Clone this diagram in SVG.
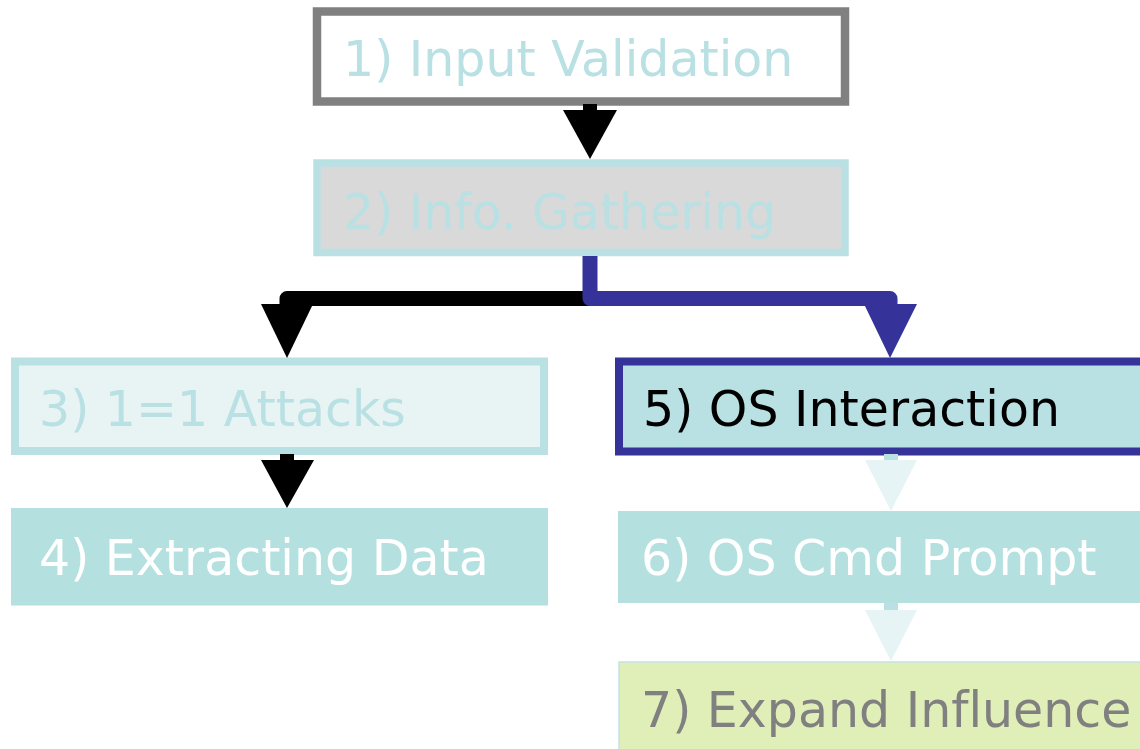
<svg xmlns="http://www.w3.org/2000/svg" width="1140" height="749" viewBox="0 0 1140 749">
<style>
text{font-family:"DejaVu Sans","Verdana",sans-serif;font-size:49px;font-variant-ligatures:none;font-feature-settings:"liga" 0}
.cy{fill:#b9e0e3}
.conn{fill:none;stroke-width:15;stroke-linejoin:round}
</style>
<rect width="1140" height="749" fill="#ffffff"/>
<g id="n1"><rect x="317" y="11.5" width="528" height="90" fill="#ffffff" stroke="#808080" stroke-width="8.5"/><text x="343" y="76" class="cy">1) Input Validation</text></g>
<g id="n2"><rect x="317" y="163" width="528" height="89.5" fill="#d9d9d9" stroke="#b9e0e3" stroke-width="7.5"/><text x="343" y="229" class="cy">2) Info. Gathering</text></g>
<g id="n3"><rect x="15" y="361.5" width="529" height="89.5" fill="#e8f4f4" stroke="#b9e0e3" stroke-width="8"/><text x="39" y="425.5" class="cy">3) 1=1 Attacks</text></g>
<g id="n4"><rect x="11" y="508" width="537" height="97.5" fill="#b4e0e0"/><text x="39" y="575" fill="#ffffff">4) Extracting Data</text></g>
<g id="n5"><rect x="619" y="361.5" width="530" height="90" fill="#b9e0e3" stroke="#353399" stroke-width="8"/><text x="643" y="426" fill="#000000">5) OS Interaction</text></g>
<g id="n6"><rect x="618" y="511" width="530" height="92" fill="#b4e0e0"/><text x="641" y="575" fill="#ffffff">6) OS Cmd Prompt</text></g>
<g id="n7"><rect x="619" y="662" width="530" height="95" fill="#e0eeb7" stroke="#c4e2e4" stroke-width="1.5"/><text x="641" y="726.5" fill="#808080">7) Expand Influence</text></g>
<g id="connectors">
<rect x="583" y="104" width="14" height="8" fill="#000000"/>
<polygon points="563,110 617,110 590,159" fill="#000000"/>
<path class="conn" stroke="#000000" d="M590 298.5 L287 298.5 L287 306"/>
<polygon points="261,304 313,304 287,358" fill="#000000"/>
<path class="conn" stroke="#353399" d="M590 256 L590 298.5 L890 298.5 L890 306"/>
<polygon points="864,304 917,304 890,358" fill="#353399"/>
<rect x="280" y="454" width="14" height="7" fill="#000000"/>
<polygon points="261,460 314,460 287,508" fill="#000000"/>
<rect x="884" y="454" width="14" height="7" fill="#b9e0e3"/>
<polygon points="865,460 917,460 891,511" fill="#e6f4f5"/>
<rect x="884" y="603" width="14" height="8" fill="#b9e0e3"/>
<polygon points="865,610 917,610 891,661" fill="#e6f4f5"/>
</g>
</svg>
